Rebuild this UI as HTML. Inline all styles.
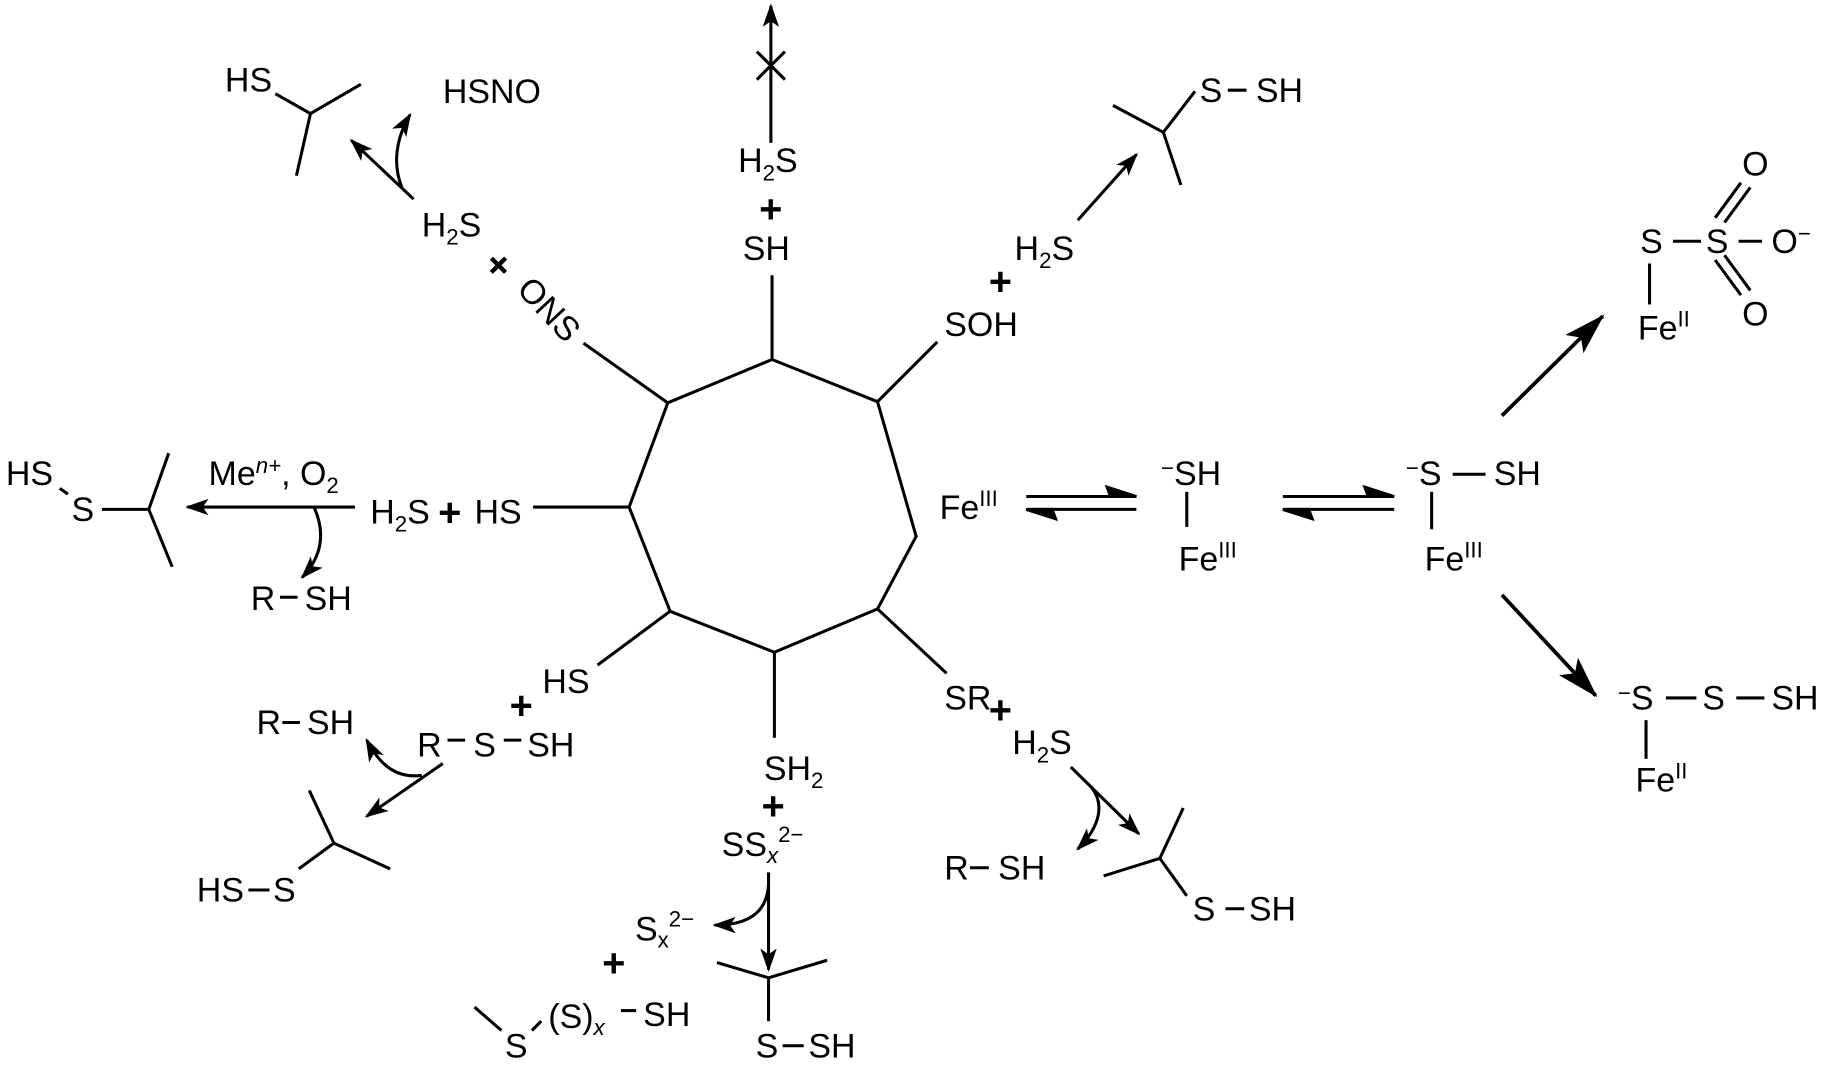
<!DOCTYPE html>
<html><head><meta charset="utf-8"><style>
html,body{margin:0;padding:0;background:#fff;}
svg{display:block;}
text{font-family:"Liberation Sans",Arial,sans-serif;font-size:29px;fill:#000;}
.sub{font-size:19px;}
.p{font-size:34px;font-weight:bold;}
</style></head><body>
<svg width="1837" height="1075" viewBox="0 0 1568 918" preserveAspectRatio="none" xmlns="http://www.w3.org/2000/svg">
<defs>
<marker id="b" markerWidth="20" markerHeight="14" refX="18" refY="7" orient="auto" markerUnits="userSpaceOnUse" viewBox="0 0 20 14"><path d="M0,0 L20,7 L0,14 L5,7 Z" fill="#000"/></marker>
<marker id="c" markerWidth="36" markerHeight="22" refX="34" refY="11" orient="auto" markerUnits="userSpaceOnUse" viewBox="0 0 36 22"><path d="M0,0 L36,11 L0,22 L8,11 Z" fill="#000"/></marker>
</defs>
<g stroke="#000" stroke-width="2.6" fill="none">
<polygon points="659,307 749,343 782,458 749,520 661,557 572,522 537,433 570,344"/>
<line x1="659" y1="307" x2="659" y2="235"/>
<line x1="749" y1="343" x2="800" y2="292"/>
<line x1="570" y1="344" x2="498" y2="293"/>
<line x1="537" y1="433" x2="455" y2="433"/>
<line x1="572" y1="522" x2="510" y2="568"/>
<line x1="661" y1="557" x2="661" y2="630"/>
<line x1="749" y1="520" x2="808" y2="575"/>
<line x1="658" y1="122" x2="658" y2="5" marker-end="url(#b)"/>
<line x1="646" y1="44" x2="670" y2="68"/><line x1="670" y1="44" x2="646" y2="68"/>
<line x1="920" y1="188" x2="970" y2="132" marker-end="url(#b)"/>
<polyline points="950,90 993,113 1020,78"/><line x1="993" y1="113" x2="1008" y2="158"/>
<line x1="1048" y1="77" x2="1064" y2="77"/>
<line x1="353" y1="170" x2="300" y2="120" marker-end="url(#b)"/>
<path d="M343,160 C335,140 338,118 350,98" marker-end="url(#b)"/>
<polyline points="235,80 265,97 308,72"/><line x1="265" y1="97" x2="253" y2="150"/>
<line x1="303" y1="433" x2="160" y2="433" marker-end="url(#b)"/>
<path d="M268,433 C278,455 275,475 258,493" marker-end="url(#b)"/>
<line x1="239" y1="510" x2="254" y2="510"/>
<polyline points="87,435 127,435 144,387"/><line x1="127" y1="435" x2="147" y2="484"/>
<line x1="51" y1="417" x2="58" y2="422"/>
<line x1="382" y1="632" x2="397" y2="632"/><line x1="430" y1="632" x2="445" y2="632"/>
<line x1="378" y1="652" x2="313" y2="697" marker-end="url(#b)"/>
<path d="M360,662 C340,665 325,655 313,632" marker-end="url(#b)"/>
<line x1="241" y1="617" x2="256" y2="617"/>
<polyline points="264,675 285,720 333,742"/><line x1="285" y1="720" x2="255" y2="742"/>
<line x1="212" y1="760" x2="230" y2="760"/>
<line x1="656" y1="745" x2="656" y2="828" marker-end="url(#b)"/>
<path d="M656,755 C655,778 640,790 610,790" marker-end="url(#b)"/>
<polyline points="612,822 656,835 706,820"/><line x1="656" y1="835" x2="656" y2="872"/>
<line x1="668" y1="893" x2="686" y2="893"/>
<line x1="405" y1="860" x2="428" y2="880"/>
<line x1="454" y1="880" x2="462" y2="872"/>
<line x1="530" y1="863" x2="543" y2="863"/>
<line x1="914" y1="655" x2="972" y2="712" marker-end="url(#b)"/>
<path d="M932,673 C945,690 935,710 920,725" marker-end="url(#b)"/>
<line x1="828" y1="741" x2="844" y2="741"/>
<polyline points="942,748 990,733 1010,690"/><line x1="990" y1="733" x2="1013" y2="765"/>
<line x1="1046" y1="776" x2="1062" y2="776"/>
<line x1="1013" y1="420" x2="1013" y2="450"/>
<line x1="1222" y1="420" x2="1222" y2="452"/>
<line x1="1240" y1="405" x2="1268" y2="405"/>
<line x1="1282" y1="355" x2="1368" y2="270" stroke-width="3.2" marker-end="url(#c)"/>
<line x1="1282" y1="508" x2="1362" y2="594" stroke-width="3.2" marker-end="url(#c)"/>
<line x1="1408" y1="225" x2="1408" y2="260"/>
<line x1="1428" y1="206" x2="1452" y2="206"/><line x1="1484" y1="206" x2="1504" y2="206"/>
<line x1="1464" y1="186" x2="1486" y2="156"/><line x1="1472" y1="190" x2="1494" y2="160"/>
<line x1="1464" y1="222" x2="1486" y2="252"/><line x1="1472" y1="218" x2="1494" y2="248"/>
<line x1="1422" y1="596" x2="1448" y2="596"/><line x1="1482" y1="596" x2="1506" y2="596"/>
<line x1="1405" y1="615" x2="1405" y2="648"/>
</g>
<g fill="#000" stroke="#000" stroke-width="2.6">
<line x1="876" y1="424" x2="965" y2="424"/><path d="M970,424 L945,416 L948,424 Z"/>
<line x1="881" y1="435" x2="970" y2="435"/><path d="M876,435 L901,443 L898,435 Z"/>
<line x1="1095" y1="424" x2="1185" y2="424"/><path d="M1190,424 L1165,416 L1168,424 Z"/>
<line x1="1100" y1="435" x2="1190" y2="435"/><path d="M1095,435 L1120,443 L1117,435 Z"/>
</g>
<g>
<text x="634" y="222">SH</text>
<text class="p" x="648" y="190">+</text>
<text x="630" y="147">H<tspan class="sub" dy="7">2</tspan><tspan dy="-7">S</tspan></text>
<text x="806" y="287">SOH</text>
<text class="p" x="844" y="252">+</text>
<text x="866" y="222">H<tspan class="sub" dy="7">2</tspan><tspan dy="-7">S</tspan></text>
<text x="1024" y="87">S</text><text x="1072" y="87">SH</text>
<text x="378" y="88">HSNO</text>
<text x="192" y="78">HS</text>
<text x="360" y="202">H<tspan class="sub" dy="7">2</tspan><tspan dy="-7">S</tspan></text>
<text class="p" transform="translate(426,226) rotate(45)" x="-10" y="12">+</text>
<text transform="translate(440,248) rotate(47)">ONS</text>
<text x="405" y="447">HS</text>
<text class="p" x="374" y="449">+</text>
<text x="316" y="447">H<tspan class="sub" dy="7">2</tspan><tspan dy="-7">S</tspan></text>
<text x="178" y="414">Me<tspan class="sub" dy="-10" font-style="italic">n+</tspan><tspan dy="10">, O</tspan><tspan class="sub" dy="7">2</tspan></text>
<text x="214" y="521">R</text><text x="260" y="521">SH</text>
<text x="5" y="414">HS</text><text x="61" y="445">S</text>
<text x="463" y="592">HS</text>
<text class="p" x="435" y="614">+</text>
<text x="356" y="646">R</text><text x="404" y="646">S</text><text x="450" y="646">SH</text>
<text x="219" y="627">R</text><text x="262" y="627">SH</text>
<text x="168" y="770">HS</text><text x="233" y="770">S</text>
<text x="652" y="666">SH<tspan class="sub" dy="7">2</tspan></text>
<text class="p" x="650" y="700">+</text>
<text x="616" y="731">SS<tspan class="sub" dy="6" font-style="italic">x</tspan><tspan class="sub" dy="-18">2−</tspan></text>
<text x="542" y="803">S<tspan class="sub" dy="6">x</tspan><tspan class="sub" dy="-18">2−</tspan></text>
<text class="p" x="514" y="834">+</text>
<text x="431" y="903">S</text>
<text x="468" y="878">(S)<tspan class="sub" dy="6" font-style="italic">x</tspan></text>
<text x="549" y="876">SH</text>
<text x="645" y="903">S</text><text x="690" y="903">SH</text>
<text x="806" y="606">SR</text>
<text class="p" x="844" y="618">+</text>
<text x="864" y="644">H<tspan class="sub" dy="7">2</tspan><tspan dy="-7">S</tspan></text>
<text x="806" y="751">R</text><text x="852" y="751">SH</text>
<text x="1018" y="786">S</text><text x="1066" y="786">SH</text>
<text x="802" y="443">Fe<tspan class="sub" dy="-11">III</tspan></text>
<text x="991" y="414"><tspan class="sub" dy="-8">−</tspan><tspan dy="8">SH</tspan></text>
<text x="1006" y="487">Fe<tspan class="sub" dy="-11">III</tspan></text>
<text x="1200" y="414"><tspan class="sub" dy="-8">−</tspan><tspan dy="8">S</tspan></text>
<text x="1275" y="414">SH</text>
<text x="1216" y="487">Fe<tspan class="sub" dy="-11">III</tspan></text>
<text x="1400" y="216">S</text><text x="1456" y="216">S</text>
<text x="1512" y="216">O<tspan class="sub" dy="-10">−</tspan></text>
<text x="1487" y="150">O</text><text x="1487" y="278">O</text>
<text x="1398" y="290">Fe<tspan class="sub" dy="-11">II</tspan></text>
<text x="1381" y="606"><tspan class="sub" dy="-8">−</tspan><tspan dy="8">S</tspan></text>
<text x="1453" y="606">S</text><text x="1512" y="606">SH</text>
<text x="1396" y="676">Fe<tspan class="sub" dy="-11">II</tspan></text>
</g>
</svg>
</body></html>
